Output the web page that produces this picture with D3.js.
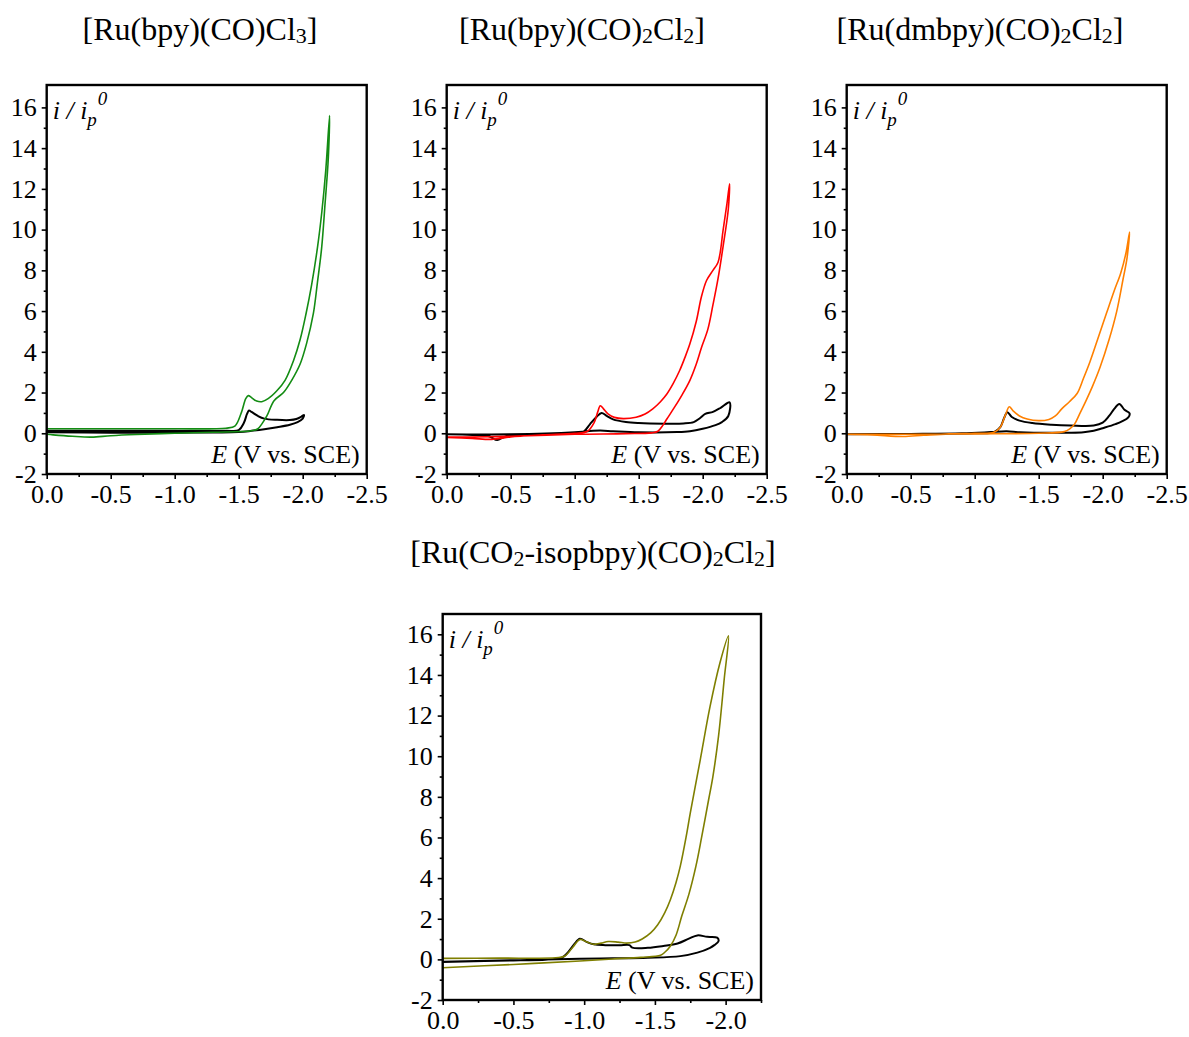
<!DOCTYPE html>
<html>
<head>
<meta charset="utf-8">
<script src="https://cdn.jsdelivr.net/npm/d3@7"></script>
<style>
  html, body { margin: 0; padding: 0; background: #fff; }
  svg text { font-family: "Liberation Serif", "Times New Roman", serif; fill: #000; }
</style>
</head>
<body>
<svg id="chart" width="1189" height="1037"></svg>
<script>
// ---------- DATA ----------
// Titles (text parts; "sub" marks subscripts)
const titles = [
  [["[Ru(bpy)(CO)Cl", ""], ["3", "sub"], ["]", ""]],
  [["[Ru(bpy)(CO)", ""], ["2", "sub"], ["Cl", ""], ["2", "sub"], ["]", ""]],
  [["[Ru(dmbpy)(CO)", ""], ["2", "sub"], ["Cl", ""], ["2", "sub"], ["]", ""]],
  [["[Ru(CO", ""], ["2", "sub"], ["-isopbpy)(CO)", ""], ["2", "sub"], ["Cl", ""], ["2", "sub"], ["]", ""]]
];

const yTicks = [-2, 0, 2, 4, 6, 8, 10, 12, 14, 16];
const yMinorTicks = [-1, 1, 3, 5, 7, 9, 11, 13, 15];
const xTicksWide = [0, -0.5, -1.0, -1.5, -2.0, -2.5];
const xMinorWide = [-0.25, -0.75, -1.25, -1.75, -2.25];
const xTicksNarrow = [0, -0.5, -1.0, -1.5, -2.0];
const xMinorNarrow = [-0.25, -0.75, -1.25, -1.75, -2.25];

const seriesColors = ["#138c13", "#ff0000", "#ff8000", "#7f7f00"];

// Panel 1: [Ru(bpy)(CO)Cl3]  [E (V), i/ip0]
const p1Color = [
  [0,0.22],[-0.5,0.22],[-1.0,0.22],[-1.4,0.25],[-1.47,0.35],[-1.52,1.0],[-1.555,1.7],[-1.575,1.85],
  [-1.6,1.75],[-1.64,1.58],[-1.68,1.55],[-1.73,1.7],[-1.8,2.1],[-1.862,2.6],[-1.93,3.6],[-1.98,4.6],
  [-2.026,5.87],[-2.07,7.3],[-2.115,9.1],[-2.15,10.9],[-2.18,12.9],[-2.21,15.6],
  [-2.2,13.5],[-2.175,11.3],[-2.148,9.1],[-2.115,7.4],[-2.083,5.87],[-2.03,4.4],[-1.98,3.4],
  [-1.914,2.6],[-1.85,2.0],[-1.776,1.6],[-1.72,0.85],[-1.68,0.45],[-1.65,0.22],[-1.6,0.12],
  [-1.3,0.05],[-1.0,0.0],[-0.7,-0.06],[-0.5,-0.12],[-0.35,-0.19],[-0.2,-0.15],[-0.05,-0.08],[0,-0.05]
];
const p1Black = [
  [0,0.12],[-0.5,0.12],[-1.0,0.12],[-1.4,0.12],[-1.5,0.15],[-1.54,0.5],[-1.565,0.95],[-1.58,1.12],
  [-1.6,1.05],[-1.65,0.85],[-1.7,0.72],[-1.8,0.66],[-1.9,0.65],[-1.95,0.7],[-1.99,0.82],[-2.01,0.9],
  [-2.0,0.72],[-1.96,0.55],[-1.9,0.42],[-1.8,0.3],[-1.7,0.2],[-1.6,0.12],[-1.5,0.06],[-1.0,0.03],
  [-0.5,0.03],[0,0.05]
];

// Panel 2: [Ru(bpy)(CO)2Cl2]
const p2Color = [
  [0,-0.2],[-0.2,-0.25],[-0.35,-0.3],[-0.5,-0.18],[-0.75,-0.08],[-1.0,0.0],[-1.1,0.1],[-1.15,0.5],
  [-1.18,1.05],[-1.2,1.35],[-1.225,1.2],[-1.26,0.95],[-1.31,0.78],[-1.38,0.72],[-1.48,0.79],[-1.55,0.95],
  [-1.61,1.2],[-1.67,1.55],[-1.72,1.93],[-1.77,2.45],[-1.82,3.08],[-1.86,3.7],[-1.9,4.39],[-1.95,5.5],
  [-1.99,6.7],[-2.03,7.5],[-2.08,8.0],[-2.12,8.4],[-2.16,10.0],[-2.19,11.3],[-2.21,12.25],
  [-2.2,11.0],[-2.16,9.2],[-2.12,7.6],[-2.08,6.3],[-2.04,5.1],[-1.99,4.2],[-1.95,3.4],[-1.9,2.6],
  [-1.84,1.9],[-1.78,1.28],[-1.72,0.7],[-1.69,0.4],[-1.65,0.1],[-1.6,0.02],[-1.4,-0.02],[-1.0,-0.05],
  [-0.5,-0.15],[-0.2,-0.18],[0,-0.18]
];
const p2Black = [
  [0,-0.05],[-0.2,-0.08],[-0.33,-0.15],[-0.395,-0.33],[-0.45,-0.18],[-0.55,-0.1],[-0.8,-0.03],[-1.0,0.0],
  [-1.07,0.08],[-1.12,0.45],[-1.17,0.8],[-1.21,1.0],[-1.25,0.85],[-1.3,0.68],[-1.4,0.55],[-1.5,0.5],
  [-1.7,0.47],[-1.85,0.48],[-1.93,0.55],[-1.98,0.75],[-2.02,0.95],[-2.08,1.05],[-2.14,1.25],[-2.21,1.52],
  [-2.2,0.85],[-2.15,0.55],[-2.1,0.4],[-2.0,0.22],[-1.9,0.1],[-1.8,0.06],[-1.5,0.05],[-1.3,0.1],
  [-1.2,0.13],[-1.1,0.1],[-1.0,0.05],[-0.5,-0.05],[0,-0.05]
];

// Panel 3: [Ru(dmbpy)(CO)2Cl2]
const p3Color = [
  [0,-0.05],[-0.2,-0.08],[-0.44,-0.16],[-0.6,-0.1],[-0.8,-0.03],[-1.0,0.0],[-1.15,0.05],[-1.2,0.3],
  [-1.24,0.9],[-1.27,1.3],[-1.3,1.1],[-1.35,0.85],[-1.41,0.7],[-1.5,0.62],[-1.58,0.68],[-1.63,0.85],
  [-1.68,1.2],[-1.74,1.55],[-1.8,1.95],[-1.85,2.7],[-1.9,3.5],[-1.96,4.6],[-2.03,5.9],[-2.09,7.0],
  [-2.14,7.85],[-2.18,8.8],[-2.21,9.88],
  [-2.19,8.6],[-2.16,7.6],[-2.11,6.0],[-2.05,4.6],[-1.98,3.25],[-1.92,2.3],[-1.87,1.6],[-1.82,0.95],
  [-1.78,0.45],[-1.74,0.2],[-1.7,0.08],[-1.5,0.0],[-1.0,-0.03],[-0.5,-0.05],[0,-0.05]
];
const p3Black = [
  [0,-0.05],[-0.5,-0.03],[-1.0,0.0],[-1.15,0.05],[-1.2,0.3],[-1.23,0.75],[-1.255,1.03],[-1.29,0.8],
  [-1.35,0.62],[-1.45,0.5],[-1.6,0.42],[-1.75,0.38],[-1.93,0.38],[-2.0,0.52],[-2.05,0.85],[-2.09,1.2],
  [-2.13,1.44],[-2.17,1.15],[-2.21,0.98],
  [-2.2,0.78],[-2.15,0.58],[-2.1,0.45],[-2.0,0.25],[-1.93,0.12],[-1.85,0.05],[-1.6,0.02],[-1.35,0.05],
  [-1.25,0.1],[-1.1,0.05],[-0.9,0.0],[-0.5,-0.03],[0,-0.05]
];

// Panel 4: [Ru(CO2-isopbpy)(CO)2Cl2]
const p4Color = [
  [0,0.05],[-0.4,0.06],[-0.8,0.08],[-0.86,0.15],[-0.92,0.6],[-0.97,0.98],[-1.02,0.85],[-1.07,0.74],
  [-1.12,0.8],[-1.17,0.88],[-1.24,0.85],[-1.3,0.8],[-1.36,0.85],[-1.41,1.0],[-1.47,1.3],[-1.52,1.7],
  [-1.57,2.3],[-1.61,2.95],[-1.65,3.8],[-1.68,4.6],[-1.72,6.0],[-1.75,7.2],[-1.82,9.8],[-1.89,12.45],
  [-1.96,14.6],[-2.02,15.93],
  [-1.99,13.8],[-1.95,11.0],[-1.91,9.0],[-1.88,7.87],[-1.83,6.0],[-1.79,4.59],[-1.74,3.2],[-1.69,2.13],
  [-1.65,1.2],[-1.61,0.66],[-1.57,0.35],[-1.54,0.2],[-1.4,0.1],[-1.2,0.02],[-0.97,-0.08],[-0.5,-0.25],
  [0,-0.41]
];
const p4Black = [
  [0,-0.12],[-0.4,-0.05],[-0.84,0.08],[-0.88,0.3],[-0.93,0.75],[-0.97,1.02],[-1.02,0.85],[-1.07,0.74],
  [-1.15,0.7],[-1.25,0.69],[-1.32,0.7],[-1.34,0.58],[-1.45,0.57],[-1.56,0.66],[-1.66,0.78],[-1.74,1.02],
  [-1.8,1.18],[-1.87,1.11],[-1.94,1.07],[-1.95,0.9],
  [-1.92,0.7],[-1.89,0.57],[-1.8,0.33],[-1.68,0.16],[-1.45,0.08],[-1.2,0.05],[-0.97,0.03],[-0.5,-0.05],
  [0,-0.13]
];

const colorSeries = [p1Color, p2Color, p3Color, p4Color];
const blackSeries = [p1Black, p2Black, p3Black, p4Black];

// ---------- LAYOUT ----------
const FONT = '"Liberation Serif", "Times New Roman", serif';
const panels = [
  { left: 46.7,  right: 366.7, top: 85,  bottom: 474,  xMin: -2.5,  yMax: 17.1, titleX: 200, titleY: 40,
    xt: xTicksWide, xm: xMinorWide },
  { left: 446.7, right: 766.7, top: 85,  bottom: 474,  xMin: -2.5,  yMax: 17.1, titleX: 582, titleY: 40,
    xt: xTicksWide, xm: xMinorWide },
  { left: 846.7, right: 1166.7, top: 85, bottom: 474,  xMin: -2.5,  yMax: 17.1, titleX: 980, titleY: 40,
    xt: xTicksWide, xm: xMinorWide },
  { left: 442.7, right: 761,   top: 614, bottom: 1000, xMin: -2.25, yMax: 17.0, titleX: 593, titleY: 563,
    xt: xTicksNarrow, xm: xMinorNarrow }
];

const svg = d3.select("#chart");
const tickFont = 26;
const fmt = v => (v === 0 ? "0.0" : d3.format(".1f")(v).replace("\u2212", "-"));
const fmtY = v => String(v);

panels.forEach((p, k) => {
  const x = d3.scaleLinear().domain([0, p.xMin]).range([p.left, p.right]);
  const y = d3.scaleLinear().domain([-2, p.yMax]).range([p.bottom, p.top]);
  const g = svg.append("g");

  // title
  const t = g.append("text").attr("x", p.titleX).attr("y", p.titleY)
    .attr("text-anchor", "middle").attr("font-family", FONT).style("font-size", "32px");
  let shift = 0;
  titles[k].forEach(([s, kind]) => {
    const ts = t.append("tspan").text(s);
    const target = kind === "sub" ? 3 : 0;
    ts.attr("dy", target - shift);
    if (kind === "sub") ts.style("font-size", "22px");
    shift = target;
  });

  // curves
  const line = d3.line().x(d => x(d[0])).y(d => y(d[1])).curve(d3.curveCatmullRom.alpha(0.5));
  const clipId = "clip" + k;
  svg.append("clipPath").attr("id", clipId).append("rect")
    .attr("x", p.left).attr("y", p.top).attr("width", p.right - p.left).attr("height", p.bottom - p.top);
  const cg = g.append("g").attr("clip-path", `url(#${clipId})`);
  cg.append("path").datum(blackSeries[k]).attr("d", line)
    .attr("fill", "none").attr("stroke", "#000").attr("stroke-width", 2).attr("stroke-linejoin", "round");
  cg.append("path").datum(colorSeries[k]).attr("d", line)
    .attr("fill", "none").attr("stroke", seriesColors[k]).attr("stroke-width", 1.6).attr("stroke-linejoin", "round");

  // axes
  const yAx = g.append("g").attr("transform", `translate(${p.left},0)`)
    .call(d3.axisLeft(y).tickValues(yTicks).tickSize(5).tickPadding(5).tickFormat(fmtY));
  const yMin = g.append("g").attr("transform", `translate(${p.left},0)`)
    .call(d3.axisLeft(y).tickValues(yMinorTicks).tickSize(3).tickFormat(""));
  const xAx = g.append("g").attr("transform", `translate(0,${p.bottom})`)
    .call(d3.axisBottom(x).tickValues(p.xt).tickSize(5).tickPadding(6).tickFormat(fmt));
  const xMin = g.append("g").attr("transform", `translate(0,${p.bottom})`)
    .call(d3.axisBottom(x).tickValues(p.xm.filter(v => v >= p.xMin)).tickSize(3).tickFormat(""));
  [yAx, yMin, xAx, xMin].forEach(a => {
    a.attr("font-family", FONT).attr("font-size", tickFont);
    a.select(".domain").remove();
    a.selectAll(".tick line").attr("stroke", "#000").attr("stroke-width", 1.6);
    a.selectAll("text").attr("font-family", FONT).style("font-size", tickFont + "px").attr("fill", "#000");
  });

  // frame
  g.append("rect").attr("x", p.left).attr("y", p.top)
    .attr("width", p.right - p.left).attr("height", p.bottom - p.top)
    .attr("fill", "none").attr("stroke", "#000").attr("stroke-width", 2.4);

  // y label i / i_p^0
  const yl = g.append("text").attr("x", p.left + 6).attr("y", p.top + 34)
    .attr("font-family", FONT).style("font-size", "26px").style("font-style", "italic");
  yl.append("tspan").text("i / i");
  yl.append("tspan").text("p").style("font-size", "19px").attr("dy", 7);
  yl.append("tspan").text("0").style("font-size", "19px").attr("dy", -21).attr("dx", 1);

  // x label
  const xl = g.append("text").attr("x", p.right - 7).attr("y", p.bottom - 11)
    .attr("text-anchor", "end").attr("font-family", FONT).style("font-size", "26px");
  xl.append("tspan").text("E").style("font-style", "italic");
  xl.append("tspan").text(" (V vs. SCE)");
});
</script>
</body>
</html>
